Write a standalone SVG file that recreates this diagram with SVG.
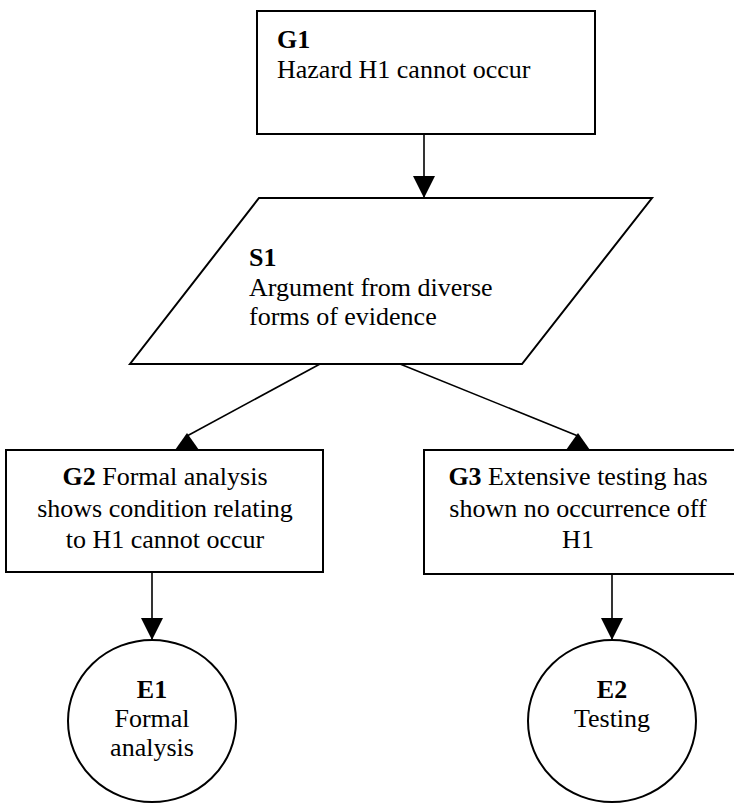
<svg xmlns="http://www.w3.org/2000/svg" width="734" height="804" viewBox="0 0 734 804">
<defs>
<style>
.box{fill:#fff;stroke:#000;stroke-width:2}
.ln{fill:none;stroke:#000;stroke-width:1.6}
.hd{fill:#000;stroke:none}
text{font-family:"Liberation Serif","Times New Roman",serif;font-size:26px;fill:#000}
.b{font-weight:bold}
.c{text-anchor:middle}
</style>
<marker id="arr" viewBox="0 0 22 22" refX="22" refY="11" markerWidth="22" markerHeight="22" markerUnits="userSpaceOnUse" orient="auto">
<path d="M0,0 L22,11 L0,22 Z" fill="#000"/>
</marker>
</defs>
<g id="connectors">
<line class="ln" x1="424" y1="134" x2="424" y2="198" marker-end="url(#arr)"/>
<line class="ln" x1="320" y1="364" x2="187" y2="436"/>
<polygon class="hd" points="187,433 175,450 199,450"/>
<line class="ln" x1="400" y1="364" x2="578" y2="436"/>
<polygon class="hd" points="578,433 566,450 590,450"/>
<line class="ln" x1="152" y1="572" x2="152" y2="640" marker-end="url(#arr)"/>
<line class="ln" x1="612" y1="574" x2="612" y2="640" marker-end="url(#arr)"/>
</g>
<g id="G1">
<rect class="box" x="257" y="11" width="338" height="123"/>
<text x="277" y="48" class="b">G1</text>
<text x="277" y="78">Hazard H1 cannot occur</text>
</g>
<g id="S1">
<polygon class="box" points="259,198 652,198 522,364 130,364"/>
<text x="249" y="266" class="b">S1</text>
<text x="249" y="296">Argument from diverse</text>
<text x="249" y="325">forms of evidence</text>
</g>
<g id="G2">
<rect class="box" x="6" y="450" width="317" height="122"/>
<text x="165" y="485" class="c"><tspan class="b">G2</tspan> Formal analysis</text>
<text x="165" y="517" class="c">shows condition relating</text>
<text x="165" y="548" class="c">to H1 cannot occur</text>
</g>
<g id="G3">
<rect class="box" x="424" y="450" width="330" height="124"/>
<text x="578" y="485" class="c"><tspan class="b">G3</tspan> Extensive testing has</text>
<text x="578" y="517" class="c">shown no occurrence off</text>
<text x="578" y="548" class="c">H1</text>
</g>
<g id="E1">
<ellipse class="box" cx="152" cy="721" rx="84" ry="81"/>
<text x="152" y="698" class="c b">E1</text>
<text x="152" y="727" class="c">Formal</text>
<text x="152" y="756" class="c">analysis</text>
</g>
<g id="E2">
<ellipse class="box" cx="612" cy="721" rx="84" ry="81"/>
<text x="612" y="698" class="c b">E2</text>
<text x="612" y="727" class="c">Testing</text>
</g>
</svg>
